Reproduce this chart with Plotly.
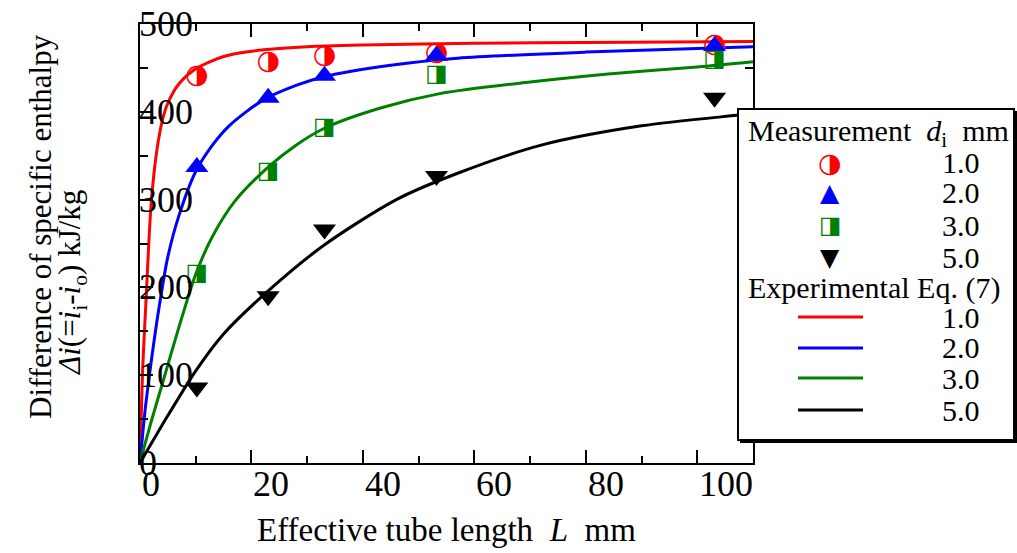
import plotly.graph_objects as go

# ---------------- data ----------------
L_meas = [10.2, 23.0, 33.1, 53.2, 103.1]
meas_d10 = [440, 457, 463, 467, 476]
meas_d20 = [337, 416, 441, 464, 475]
meas_d30 = [215, 332, 381, 442, 459]
meas_d50 = [86, 190, 266, 327, 416]

eq_L_d10 = [0, 0.5, 1, 2, 3, 4, 5, 7, 10, 15, 20, 30, 40, 60, 80, 110]
eq_d10 = [0, 110, 175, 295, 355, 390, 410, 432, 449, 463, 469, 474, 476, 478, 479, 480]
eq_L_d20 = [0, 0.5, 1, 2, 3, 4, 5, 7, 10, 13, 16, 22, 28, 33, 45, 57, 80, 110]
eq_d20 = [0, 34, 65, 115, 160, 200, 235, 282, 332, 362, 384, 413, 430, 440, 453, 461, 468, 474]
eq_L_d30 = [0, 1, 2, 4, 7, 10, 13, 17, 23, 28, 33, 43, 54, 70, 84, 100, 110]
eq_d30 = [0, 24, 47, 90, 155, 215, 258, 298, 337, 362, 381, 404, 421, 434, 443, 451, 457]
eq_L_d50 = [0, 5, 10, 15, 23, 33, 46, 57, 72, 90, 107, 110]
eq_d50 = [0, 54, 105, 147, 196, 248, 300, 330, 362, 384, 396, 398]

x_tickvals = [0, 20, 40, 60, 80, 100]
x_ticktext = ["0", "20", "40", "60", "80", "100"]
y_tickvals = [0, 100, 200, 300, 400, 500]
y_ticktext = ["0", "100", "200", "300", "400", "500"]

diam_labels = ["1.0", "2.0", "3.0", "5.0"]
colors = ["#ff0000", "#0000ff", "#008000", "#000000"]

SERIF = "Liberation Serif"
GLYPH = "DejaVu Sans"

# ---------------- geometry ----------------
W, H = 1017, 553
PL, PR, PT, PB = 140, 753, 24, 463


def px(x):
    return (x - PL) / (PR - PL)


def py(y):
    return (PB - y) / (PB - PT)


fig = go.Figure()

# fitted curves (Experimental Eq. (7))
for Ls, vs, c in [(eq_L_d10, eq_d10, colors[0]), (eq_L_d20, eq_d20, colors[1]),
                  (eq_L_d30, eq_d30, colors[2]), (eq_L_d50, eq_d50, colors[3])]:
    fig.add_trace(go.Scatter(x=Ls, y=vs, mode="lines",
                             line=dict(color=c, width=3, shape="spline", smoothing=0.8),
                             showlegend=False, hoverinfo="skip"))

# measurements
fig.add_trace(go.Scatter(x=L_meas, y=meas_d10, mode="text", text=["\u25d1"] * len(L_meas),
                         textposition="middle center",
                         textfont=dict(family=GLYPH, size=27, color=colors[0]),
                         showlegend=False))
fig.add_trace(go.Scatter(x=L_meas, y=meas_d20, mode="markers",
                         marker=dict(symbol="triangle-up", size=20, color=colors[1]),
                         showlegend=False))
fig.add_trace(go.Scatter(x=L_meas, y=meas_d30, mode="text", text=["\u25e8"] * len(L_meas),
                         textposition="middle center",
                         textfont=dict(family=GLYPH, size=24, color=colors[2]),
                         showlegend=False))
fig.add_trace(go.Scatter(x=L_meas, y=meas_d50, mode="markers",
                         marker=dict(symbol="triangle-down", size=20, color=colors[3]),
                         showlegend=False))

annotations = []
# x tick labels (left-aligned at the tick, as in the original)
for v, t in zip(x_tickvals, x_ticktext):
    annotations.append(dict(x=v, xref="x", y=py(484), yref="paper", text=t,
                            xanchor="left", yanchor="middle", showarrow=False,
                            font=dict(family=SERIF, size=36, color="black")))
# y tick labels
for v, t in zip(y_tickvals, y_ticktext):
    annotations.append(dict(x=px(137), xref="paper", y=v, yref="y", text=t,
                            xanchor="left", yanchor="middle", showarrow=False,
                            font=dict(family=SERIF, size=36, color="black")))

# axis titles
annotations.append(dict(x=px(446), xref="paper", y=py(530), yref="paper",
                        text="Effective tube length\u00a0\u00a0<i>L</i>\u00a0\u00a0mm",
                        xanchor="center", yanchor="middle", showarrow=False,
                        font=dict(family=SERIF, size=33, color="black")))
annotations.append(dict(x=px(40), xref="paper", y=py(227), yref="paper",
                        text="Difference of specific enthalpy", textangle=-90,
                        xanchor="center", yanchor="middle", showarrow=False,
                        font=dict(family=SERIF, size=31, color="black")))
annotations.append(dict(x=px(72), xref="paper", y=py(283), yref="paper",
                        text="<i>\u0394i</i>(=<i>i</i><sub>i</sub>-<i>i</i><sub>o</sub>) kJ/kg",
                        textangle=-90,
                        xanchor="center", yanchor="middle", showarrow=False,
                        font=dict(family=SERIF, size=31, color="black")))

# legend box (shadow + box)
shapes = [
    dict(type="rect", xref="paper", yref="paper", x0=px(740), x1=px(1017), y0=py(443), y1=py(111),
         fillcolor="black", line=dict(width=0), layer="above"),
    dict(type="rect", xref="paper", yref="paper", x0=px(738), x1=px(1014), y0=py(440), y1=py(109),
         fillcolor="white", line=dict(color="black", width=2), layer="above"),
]

annotations.append(dict(x=px(746), xref="paper", y=py(133), yref="paper",
                        text="Measurement\u00a0\u00a0<i>d</i><sub>i</sub>\u00a0\u00a0mm",
                        xanchor="left", yanchor="middle", showarrow=False,
                        font=dict(family=SERIF, size=30, color="black")))
annotations.append(dict(x=px(746), xref="paper", y=py(288), yref="paper",
                        text="Experimental Eq. (7)",
                        xanchor="left", yanchor="middle", showarrow=False,
                        font=dict(family=SERIF, size=30, color="black")))

meas_rows = [162, 193, 225, 257]
line_rows = [317, 348, 378, 410]
glyphs = ["\u25d1", "\u25b2", "\u25e8", "\u25bc"]
gsizes = [27, 25, 24, 25]
for i in range(4):
    annotations.append(dict(x=px(830), xref="paper", y=py(meas_rows[i]), yref="paper",
                            text=glyphs[i], xanchor="center", yanchor="middle", showarrow=False,
                            font=dict(family=GLYPH, size=gsizes[i], color=colors[i])))
    annotations.append(dict(x=px(940), xref="paper", y=py(meas_rows[i]), yref="paper",
                            text=diam_labels[i], xanchor="left", yanchor="middle", showarrow=False,
                            font=dict(family=SERIF, size=30, color="black")))
    shapes.append(dict(type="line", xref="paper", yref="paper", x0=px(798), x1=px(863),
                       y0=py(line_rows[i]), y1=py(line_rows[i]),
                       line=dict(color=colors[i], width=3), layer="above"))
    annotations.append(dict(x=px(940), xref="paper", y=py(line_rows[i]), yref="paper",
                            text=diam_labels[i], xanchor="left", yanchor="middle", showarrow=False,
                            font=dict(family=SERIF, size=30, color="black")))

axis_common = dict(showgrid=False, zeroline=False, showline=True, linecolor="black", linewidth=2,
                   ticks="inside", tickcolor="black", tickwidth=2, mirror="ticks",
                   showticklabels=False)

fig.update_layout(
    width=W, height=H,
    margin=dict(l=PL, r=W - PR, t=PT, b=H - PB, pad=0),
    paper_bgcolor="white", plot_bgcolor="white",
    showlegend=False,
    xaxis=dict(range=[0, 110], dtick=20, tick0=0, ticklen=13,
               minor=dict(dtick=10, tick0=0, ticklen=7, tickwidth=2, tickcolor="black", ticks="inside"),
               **axis_common),
    yaxis=dict(range=[0, 500], dtick=100, tick0=0, ticklen=13,
               minor=dict(dtick=50, tick0=0, ticklen=8, tickwidth=2, tickcolor="black", ticks="inside"),
               **axis_common),
    annotations=annotations,
    shapes=shapes,
)

fig.write_html("out.html",
               config={"displayModeBar": False},
               post_script="document.body.style.margin='0px';document.body.style.padding='0px';"
                           "document.body.style.overflow='hidden';")
